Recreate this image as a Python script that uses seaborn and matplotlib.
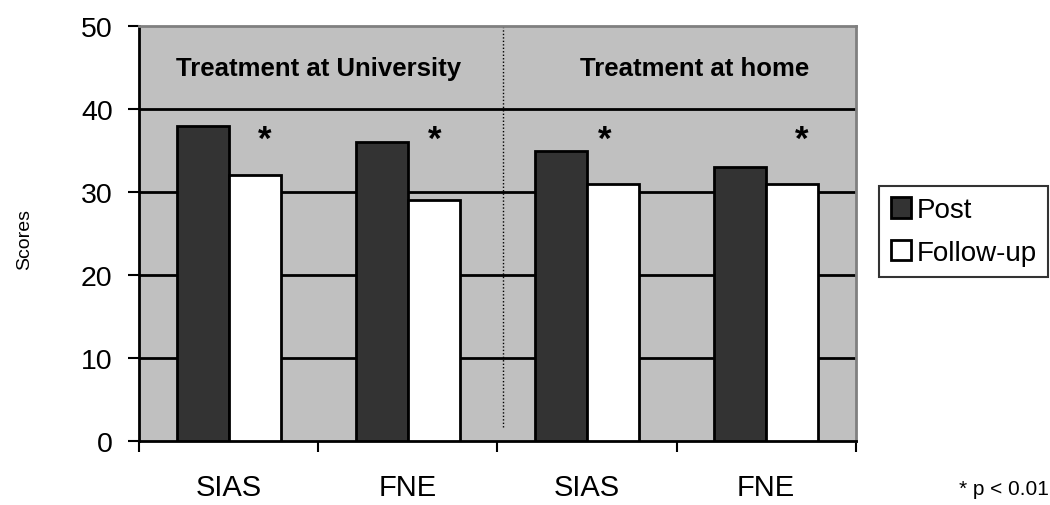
"""Post vs follow-up social anxiety scores, by treatment setting."""

import matplotlib.pyplot as plt
import pandas as pd
import seaborn as sns


# ---------------------------------------------------------------------------
# Data
# ---------------------------------------------------------------------------

CONDITIONS = ["Uni SIAS", "Uni FNE", "Home SIAS", "Home FNE"]
TICK_LABELS = ["SIAS", "FNE", "SIAS", "FNE"]
POST = [38, 36, 35, 33]
FOLLOW_UP = [32, 29, 31, 31]
SERIES = ["Post", "Follow-up"]
GROUP_LABELS = ["Treatment at University", "Treatment at home"]
STAR_X = [0.20, 1.15, 2.10, 3.20]


# ---------------------------------------------------------------------------
# Plot settings
# ---------------------------------------------------------------------------

sns.set_theme(style="white")
plt.rcParams["font.family"] = ["Liberation Sans", "DejaVu Sans"]
plt.rcParams.update({
    "text.color": "black",
    "axes.labelcolor": "black",
    "xtick.color": "black",
    "ytick.color": "black",
})


def build_frame() -> pd.DataFrame:
    """Long-format table for seaborn."""
    rows = []
    for cond, post, follow in zip(CONDITIONS, POST, FOLLOW_UP):
        rows.append({"condition": cond, "series": SERIES[0], "score": post})
        rows.append({"condition": cond, "series": SERIES[1], "score": follow})
    return pd.DataFrame(rows)


def main() -> None:
    df = build_frame()

    fig = plt.figure(figsize=(10.5, 5.06), dpi=100)
    ax = fig.add_axes([0.1324, 0.1265, 0.6826, 0.8201])
    ax.set_facecolor("#C0C0C0")

    sns.barplot(
        data=df,
        x="condition",
        y="score",
        hue="series",
        order=CONDITIONS,
        hue_order=SERIES,
        palette=["#333333", "#FFFFFF"],
        width=0.58,
        edgecolor="black",
        linewidth=2,
        saturation=1,
        ax=ax,
        zorder=3,
    )

    ax.set_xlim(-0.5, 3.5)
    ax.set_ylim(0, 50)
    ax.set_yticks(range(0, 51, 10))
    for y in range(10, 50, 10):
        ax.axhline(y, color="black", linewidth=2, zorder=1)

    # divider between the two settings
    ax.plot([1.53, 1.53], [1.7, 50], color="black", linestyle=(0, (1, 1.5)),
            linewidth=1, zorder=2)

    for x, label in zip([0.5, 2.6], GROUP_LABELS):
        ax.text(x, 45, label, ha="center", va="center",
                fontsize=18.5, fontweight="bold")

    for x in STAR_X:
        ax.text(x, 36.4, "*", ha="center", va="center", fontsize=25,
                fontweight="bold")

    # ticks sit between categories, labels in the middle
    ax.set_xticks([-0.5, 0.5, 1.5, 2.5, 3.5])
    ax.set_xticklabels([])
    ax.set_xticks(range(len(CONDITIONS)), TICK_LABELS, minor=True)
    ax.tick_params(axis="x", which="major", direction="out", length=8,
                   width=1.5, color="black", bottom=True)
    ax.tick_params(axis="x", which="minor", length=0, labelsize=21, pad=23)
    ax.tick_params(axis="y", direction="out", length=8, width=1.5,
                   color="black", left=True, labelsize=20.5, pad=11)

    for side in ["left", "bottom"]:
        ax.spines[side].set_color("black")
        ax.spines[side].set_linewidth(2)
    for side in ["top", "right"]:
        ax.spines[side].set_color("#808080")
        ax.spines[side].set_linewidth(2)

    ax.set_xlabel("")
    ax.set_ylabel("Scores", fontsize=14)
    ax.yaxis.set_label_coords(-0.148, 0.487)

    handles, labels = ax.get_legend_handles_labels()
    ax.legend(
        handles,
        labels,
        loc="center left",
        bbox_to_anchor=(1.033, 0.505),
        fontsize=20,
        frameon=True,
        fancybox=False,
        edgecolor="black",
        handlelength=0.75,
        handleheight=0.75,
        handletextpad=0.2,
        borderpad=0.4,
        labelspacing=0.6,
        borderaxespad=0,
    ).get_frame().set_linewidth(1.5)

    fig.text(0.913, 0.022, "* p < 0.01", fontsize=15)

    fig.savefig("out.png", dpi=100)
    plt.close(fig)


if __name__ == "__main__":
    main()
